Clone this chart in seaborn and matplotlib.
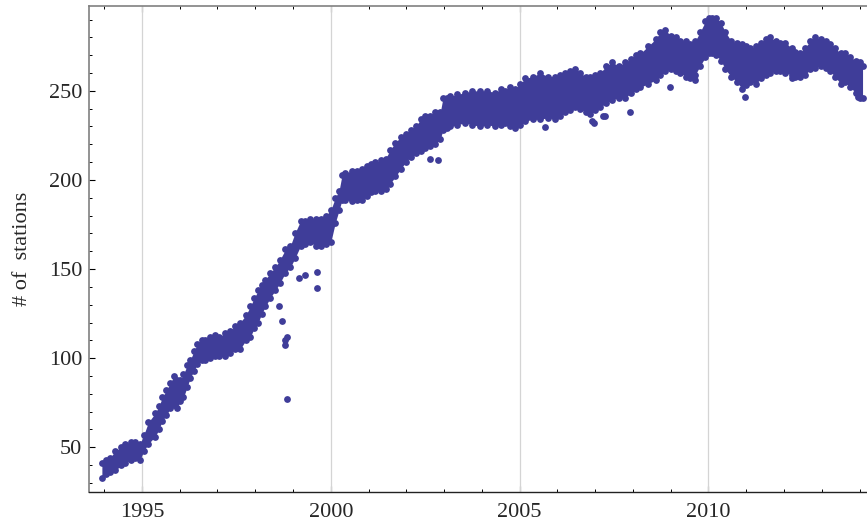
import matplotlib
matplotlib.use("Agg")
import matplotlib.pyplot as plt
from matplotlib.ticker import MultipleLocator
import numpy as np
import pandas as pd
import seaborn as sns

# Daily station counts, summarised as the lower and upper edge of the daily spread
years = [
    1993.94, 1994.05, 1994.15, 1994.30, 1994.45, 1994.56, 1994.70, 1994.82, 1994.95,
    1995.05, 1995.17, 1995.35, 1995.45, 1995.54, 1995.65, 1995.75, 1995.85, 1995.93,
    1996.02, 1996.10, 1996.20, 1996.28, 1996.38, 1996.47, 1996.58, 1996.68, 1996.80, 1996.94,
    1997.05, 1997.20, 1997.33, 1997.47, 1997.60, 1997.75, 1997.87, 1997.98,
    1998.08, 1998.17, 1998.27, 1998.40, 1998.53, 1998.65, 1998.80, 1998.93,
    1999.05, 1999.20, 1999.33, 1999.46, 1999.60, 1999.73, 1999.87,
    2000.00, 2000.12, 2000.22, 2000.30, 2000.39, 2000.55, 2000.70, 2000.82, 2000.95,
    2001.07, 2001.18, 2001.32, 2001.45, 2001.58, 2001.71, 2001.85, 2001.98,
    2002.12, 2002.25, 2002.38, 2002.50, 2002.63, 2002.77, 2002.90, 2002.97,
    2003.08, 2003.17, 2003.35, 2003.56, 2003.75, 2003.96,
    2004.15, 2004.36, 2004.50, 2004.62, 2004.75, 2004.89,
    2005.02, 2005.15, 2005.35, 2005.55, 2005.75, 2005.94,
    2006.07, 2006.20, 2006.33, 2006.47, 2006.60, 2006.75, 2006.87,
    2007.00, 2007.13, 2007.30, 2007.45, 2007.62, 2007.80, 2007.95,
    2008.07, 2008.20, 2008.40, 2008.60, 2008.73, 2008.86,
    2009.00, 2009.13, 2009.26, 2009.40, 2009.52, 2009.65, 2009.78, 2009.92,
    2010.02, 2010.10, 2010.20, 2010.33, 2010.45, 2010.60, 2010.75, 2010.90,
    2011.00, 2011.10, 2011.25, 2011.40, 2011.52, 2011.64, 2011.78, 2011.90,
    2012.04, 2012.20, 2012.30, 2012.43, 2012.55, 2012.70, 2012.83, 2012.97,
    2013.10, 2013.22, 2013.35, 2013.50, 2013.62, 2013.75, 2013.90, 2014.00, 2014.08,
]
low = [
    33, 35, 36, 37, 40, 41, 43, 44, 43,
    48, 52, 56, 60, 65, 68, 72, 74, 72,
    76, 78, 84, 89, 93, 97, 99, 99, 100, 101,
    101, 101, 103, 105, 105, 110, 112, 117,
    120, 125, 129, 134, 138, 142, 148, 151,
    156, 163, 164, 165, 163, 163, 164,
    165, 176, 183, 189, 189, 188, 189, 189, 191,
    193, 194, 194, 195, 198, 202, 206, 210,
    213, 215, 216, 218, 219, 220, 223, 228,
    229, 230, 231, 232, 231, 230,
    231, 230, 231, 232, 230, 229,
    231, 233, 234, 234, 235, 234,
    236, 238, 239, 241, 240, 238, 237,
    239, 241, 243, 245, 246, 246, 249,
    251, 252, 254, 256, 259, 261,
    262, 261, 260, 258, 257, 259, 264, 269,
    271, 271, 270, 267, 262, 258, 255, 251,
    253, 255, 254, 257, 259, 260, 261, 261,
    260, 259, 258, 258, 259, 262, 263, 264,
    263, 261, 258, 254, 255, 252, 249, 246, 246,
]
high = [
    41, 43, 44, 48, 50, 52, 53, 53, 52,
    57, 64, 69, 73, 78, 82, 86, 90, 88,
    88, 91, 96, 99, 104, 108, 110, 110, 112, 113,
    112, 114, 115, 118, 120, 124, 129, 134,
    138, 141, 144, 148, 151, 155, 161, 163,
    170, 177, 177, 178, 178, 178, 180,
    183, 190, 194, 203, 204, 205, 205, 206, 208,
    209, 210, 211, 212, 217, 221, 224, 226,
    228, 230, 234, 236, 236, 238, 238, 246,
    246, 247, 248, 249, 250, 250,
    250, 249, 251, 250, 252, 251,
    254, 257, 258, 260, 258, 258,
    259, 260, 261, 262, 260, 258, 258,
    259, 260, 264, 266, 264, 266, 268,
    270, 271, 275, 279, 283, 284,
    281, 280, 278, 278, 276, 278, 283, 289,
    291, 291, 291, 288, 283, 278, 277, 276,
    275, 274, 275, 277, 279, 280, 278, 277,
    277, 274, 272, 271, 274, 278, 280, 279,
    278, 276, 274, 271, 271, 269, 267, 266, 264,
]

# Isolated days falling well below the typical count
outlier_years = [1998.62, 1998.71, 1998.79, 1998.79, 1998.84, 1998.84, 1999.15, 1999.32,
                 1999.63, 1999.63, 2002.63, 2002.85, 2005.68, 2006.91, 2006.96, 2007.22,
                 2007.27, 2007.93, 2008.99, 2009.65, 2010.98, 2012.20, 2013.97]
outlier_counts = [129.5, 120.6, 110.3, 107.5, 112.1, 77.3, 145.0, 146.8,
                  139.3, 148.6, 212.0, 211.4, 229.6, 233.3, 232.0, 236.1,
                  236.0, 238.0, 251.9, 256.0, 246.3, 257.3, 246.3]

COLOR = "#3f3d99"

sns.set_style("ticks")
plt.rcParams["font.family"] = ["Liberation Serif", "DejaVu Serif"]

fig = plt.figure(figsize=(8.67, 5.26), dpi=100)
ax = fig.add_axes([0.1027, 0.0646, 0.9, 0.924])

band = pd.DataFrame({"year": years, "low": low, "high": high})
ax.fill_between(band["year"], band["low"], band["high"], color=COLOR, lw=0, zorder=2)

edges = pd.concat([
    pd.DataFrame({"year": years, "count": low}),
    pd.DataFrame({"year": years, "count": high}),
    pd.DataFrame({"year": outlier_years, "count": outlier_counts}),
])
sns.scatterplot(data=edges, x="year", y="count", color=COLOR, s=24,
                linewidth=0, ax=ax, zorder=3)

for yr in (1995, 2000, 2005, 2010):
    ax.axvline(yr, color="#d4d4d4", lw=0.9, zorder=1)

ax.set_xlim(1993.6, 2014.26)
ax.set_ylim(24.9, 297.6)
ax.xaxis.set_major_locator(MultipleLocator(5))
ax.xaxis.set_minor_locator(MultipleLocator(1))
ax.yaxis.set_major_locator(MultipleLocator(50))
ax.yaxis.set_minor_locator(MultipleLocator(10))
ax.set_yticks([50, 100, 150, 200, 250])

ax.tick_params(which="both", direction="in", top=True, right=False,
               labelsize=16, color="black")
ax.tick_params(which="major", length=4.5, width=0.8)
ax.tick_params(which="minor", length=2.5, width=0.7)
ax.tick_params(axis="x", pad=8)
ax.tick_params(axis="y", pad=5)

for side in ("left", "top"):
    ax.spines[side].set_color("#808080")
    ax.spines[side].set_linewidth(1.2)
ax.spines["bottom"].set_color("#222222")
ax.spines["bottom"].set_linewidth(1.0)
ax.spines["right"].set_visible(False)

ax.set_xlabel("")
ax.set_ylabel("# of  stations", fontsize=16, labelpad=12)

fig.savefig("out.png", dpi=100)
